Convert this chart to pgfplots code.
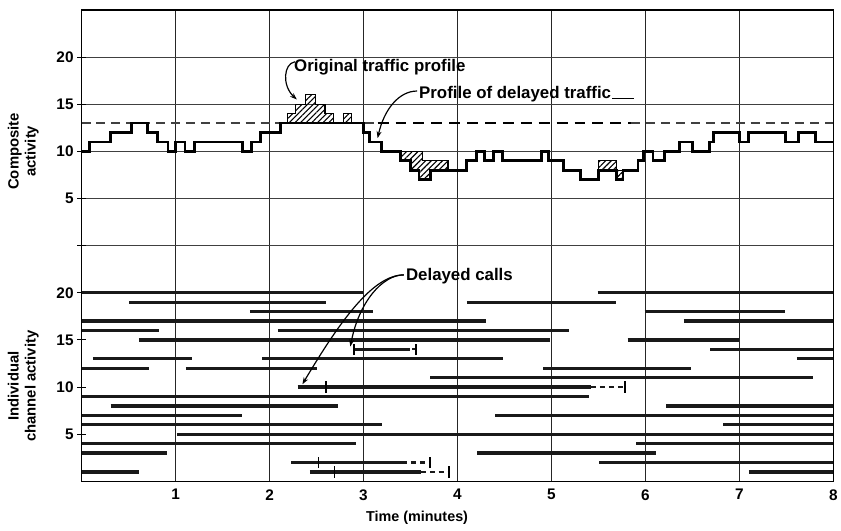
\documentclass[border=0pt]{standalone}
\usepackage{fontspec}
\setmainfont{Liberation Sans}
\usepackage{pgfplots}
\pgfplotsset{compat=1.18}
\usetikzlibrary{patterns.meta,arrows.meta}
\begin{document}
\begin{tikzpicture}[font=\bfseries\fontsize{14}{17}\selectfont]
\begin{axis}[name=ax, width=756bp, height=474bp, scale only axis,
  xmin=0, xmax=8, ymin=0, ymax=50, clip=false,
  axis line style={line width=1.6pt},
  xtick={1,2,3,4,5,6,7,8}, xtick style={draw=none},
  xmajorgrids, grid style={line width=1.1pt, black!85},
  ytick={5,10,15,20,30,35,40,45}, yticklabels={5,10,15,20,5,10,15,20},
  ytick pos=left, tick align=center, major tick length=9bp,
  ytick style={line width=1pt, black},
  extra y ticks={25,30,35,40,45}, extra y tick labels={},
  extra y tick style={ymajorgrids, grid style={line width=1.1pt, black!75}},
  unbounded coords=jump,
  tick label style={font=\bfseries\fontsize{15.5}{17}\selectfont},
  /pgf/number format/assume math mode=true,
  seg/.style={line width=3.2bp, black!90},
  dseg/.style={line width=2.2bp, black!90, dash pattern=on 5bp off 4bp},
  vt/.style={line width=1.6bp, black},
]
% ---- composite: reference dashed level 13
\addplot[line width=1.4pt, black!75, dash pattern=on 9bp off 6bp] coordinates {(0,38)(3.15,38)};
\addplot[line width=1.4pt, black!75, dash pattern=on 9bp off 6bp] coordinates {(5.85,38)(8,38)};
\addplot[line width=2.6pt, black, dash pattern=on 11bp off 7bp] coordinates {(3.15,38)(5.85,38)};
% ---- hatched differences
\addplot[line width=1.2pt, black, pattern={Lines[angle=45,distance=4bp,line width=1.1bp]}] coordinates
 {(2.19,38)(2.19,39)(2.28,39)(2.28,40)(2.38,40)(2.38,41)(2.49,41)(2.49,40)(2.59,40)(2.59,39)(2.68,39)(2.68,38)} -- cycle;
\addplot[line width=1.2pt, black, pattern={Lines[angle=45,distance=4bp,line width=1.1bp]}] coordinates
 {(2.79,38)(2.79,39)(2.87,39)(2.87,38)} -- cycle;
\addplot[line width=1.2pt, black, pattern={Lines[angle=45,distance=4bp,line width=1.1bp]}] coordinates
 {(3.39,35)(3.63,35)(3.63,34)(3.90,34)(3.90,33)(3.71,33)(3.71,32)(3.59,32)(3.59,33)(3.50,33)(3.50,34)(3.39,34)} -- cycle;
\addplot[line width=1.2pt, black, pattern={Lines[angle=45,distance=4bp,line width=1.1bp]}] coordinates
 {(5.50,34)(5.69,34)(5.69,33)(5.50,33)} -- cycle;
\addplot[line width=1.2pt, black, pattern={Lines[angle=45,distance=4bp,line width=1.1bp]}] coordinates
 {(5.69,33)(5.76,33)(5.76,32)(5.69,32)} -- cycle;
% ---- composite profile (step)
\addplot[const plot, line width=2.8bp, black] coordinates {
(0,35)(0.085,36)(0.31,37)(0.53,38)(0.70,37)(0.81,36)(0.92,35)(1.00,36)(1.10,35)(1.20,36)
(1.71,35)(1.81,36)(1.90,37)(2.12,38)(3.00,37)(3.06,36)(3.19,35)(3.39,34)(3.50,33)(3.59,32)
(3.71,33)(4.10,34)(4.20,35)(4.29,34)(4.38,35)(4.48,34)(4.89,35)(4.97,34)(5.13,33)(5.31,32)
(5.50,33)(5.69,32)(5.76,33)(5.92,34)(5.98,35)(6.08,34)(6.20,35)(6.36,36)(6.50,35)(6.68,36)
(6.72,37)(7.00,36)(7.10,37)(7.49,36)(7.63,37)(7.81,36)(8,36)};
% ---- individual channels
\addplot[seg] coordinates {(0,20)(2.99,20)(nan,nan)(5.49,20)(8,20)};
\addplot[seg] coordinates {(0.51,19)(2.60,19)(nan,nan)(4.10,19)(5.69,19)};
\addplot[seg] coordinates {(1.79,18)(3.10,18)(nan,nan)(5.99,18)(7.48,18)};
\addplot[seg] coordinates {(0,17)(4.30,17)(nan,nan)(6.41,17)(8,17)};
\addplot[seg] coordinates {(0,16)(0.82,16)(nan,nan)(2.09,16)(5.19,16)};
\addplot[seg] coordinates {(0.61,15)(4.98,15)(nan,nan)(5.81,15)(6.99,15)};
\addplot[seg] coordinates {(2.90,14)(3.50,14)(nan,nan)(6.69,14)(8,14)};
\addplot[seg] coordinates {(0.12,13)(1.18,13)(nan,nan)(1.92,13)(4.48,13)(nan,nan)(7.61,13)(8,13)};
\addplot[seg] coordinates {(0,12)(0.72,12)(nan,nan)(1.11,12)(2.50,12)(nan,nan)(4.91,12)(6.48,12)};
\addplot[seg] coordinates {(3.71,11)(7.78,11)};
\addplot[seg] coordinates {(2.30,10)(5.42,10)};
\addplot[seg] coordinates {(0,9)(5.40,9)};
\addplot[seg] coordinates {(0.31,8)(2.73,8)(nan,nan)(6.22,8)(8,8)};
\addplot[seg] coordinates {(0,7)(1.71,7)(nan,nan)(4.40,7)(8,7)};
\addplot[seg] coordinates {(0,6)(3.20,6)(nan,nan)(6.83,6)(8,6)};
\addplot[seg] coordinates {(1.02,5)(8,5)};
\addplot[seg] coordinates {(0,4)(2.92,4)(nan,nan)(5.90,4)(8,4)};
\addplot[seg] coordinates {(0,3)(0.91,3)(nan,nan)(4.21,3)(6.11,3)};
\addplot[seg] coordinates {(2.23,2)(3.41,2)(nan,nan)(5.51,2)(8,2)};
\addplot[seg] coordinates {(0,1)(0.61,1)(nan,nan)(2.43,1)(3.61,1)(nan,nan)(7.10,1)(8,1)};
% delayed extensions (dashed)
\addplot[dseg] coordinates {(3.52,14)(3.56,14)};
\addplot[dseg] coordinates {(5.42,10)(5.77,10)};
\addplot[dseg] coordinates {(3.41,2)(3.70,2)};
\addplot[dseg] coordinates {(3.61,1)(3.90,1)};
% delayed-call tick marks
\addplot[vt] coordinates {(2.90,13.4)(2.90,14.6)(nan,nan)(3.56,13.4)(3.56,14.6)};
\addplot[vt] coordinates {(2.60,9.4)(2.60,10.6)(nan,nan)(5.78,9.4)(5.78,10.6)};
\addplot[vt] coordinates {(2.52,1.4)(2.52,2.6)(nan,nan)(3.71,1.4)(3.71,2.6)};
\addplot[vt] coordinates {(2.69,0.4)(2.69,1.6)(nan,nan)(3.91,0.4)(3.91,1.6)};
% ---- annotations
\node[anchor=west, inner sep=1bp, font=\bfseries\fontsize{17}{19}\selectfont] at (axis cs:2.25,43.9) {Original traffic profile};
\draw[line width=1.2pt, -{Stealth[length=7bp,width=5bp]}] (axis cs:2.27,44.5) .. controls (axis cs:2.15,44.3) and (axis cs:2.13,42.0) .. (axis cs:2.29,40.5);
\node[anchor=west, inner sep=1bp, font=\bfseries\fontsize{17}{19}\selectfont] (pdt) at (axis cs:3.58,41.1) {Profile of delayed traffic};
\draw[line width=1.2pt] (pdt.base east) -- ++(22bp,0);
\draw[line width=1.2pt, -{Stealth[length=7bp,width=5bp]}] (axis cs:3.57,41.4) .. controls (axis cs:3.38,41.4) and (axis cs:3.22,39.5) .. (axis cs:3.15,36.4);
\node[anchor=west, inner sep=1bp, font=\bfseries\fontsize{17}{19}\selectfont] at (axis cs:3.44,21.8) {Delayed calls};
\draw[line width=1.2pt, -{Stealth[length=7bp,width=5bp]}] (axis cs:3.43,21.9) .. controls (axis cs:3.20,21.9) and (axis cs:2.95,19.0) .. (axis cs:2.86,14.3);
\draw[line width=1.2pt, -{Stealth[length=7bp,width=5bp]}] (axis cs:3.43,21.9) .. controls (axis cs:3.10,21.9) and (axis cs:2.75,17.0) .. (axis cs:2.35,10.3);
\node[rotate=90, align=center, font=\bfseries\fontsize{15}{17}\selectfont] at (axis cs:-0.62,35) {Composite\\activity};
\node[rotate=90, align=center, font=\bfseries\fontsize{15}{17}\selectfont] at (axis cs:-0.62,10.1) {Individual\\channel activity};
\node[font=\bfseries\fontsize{14.5}{17}\selectfont] at (axis cs:3.57,-3.9) {Time (minutes)};
\end{axis}
\path (ax.south west) ++(-82bp,-49bp) rectangle ++(841bp,533bp);
\end{tikzpicture}
\end{document}
